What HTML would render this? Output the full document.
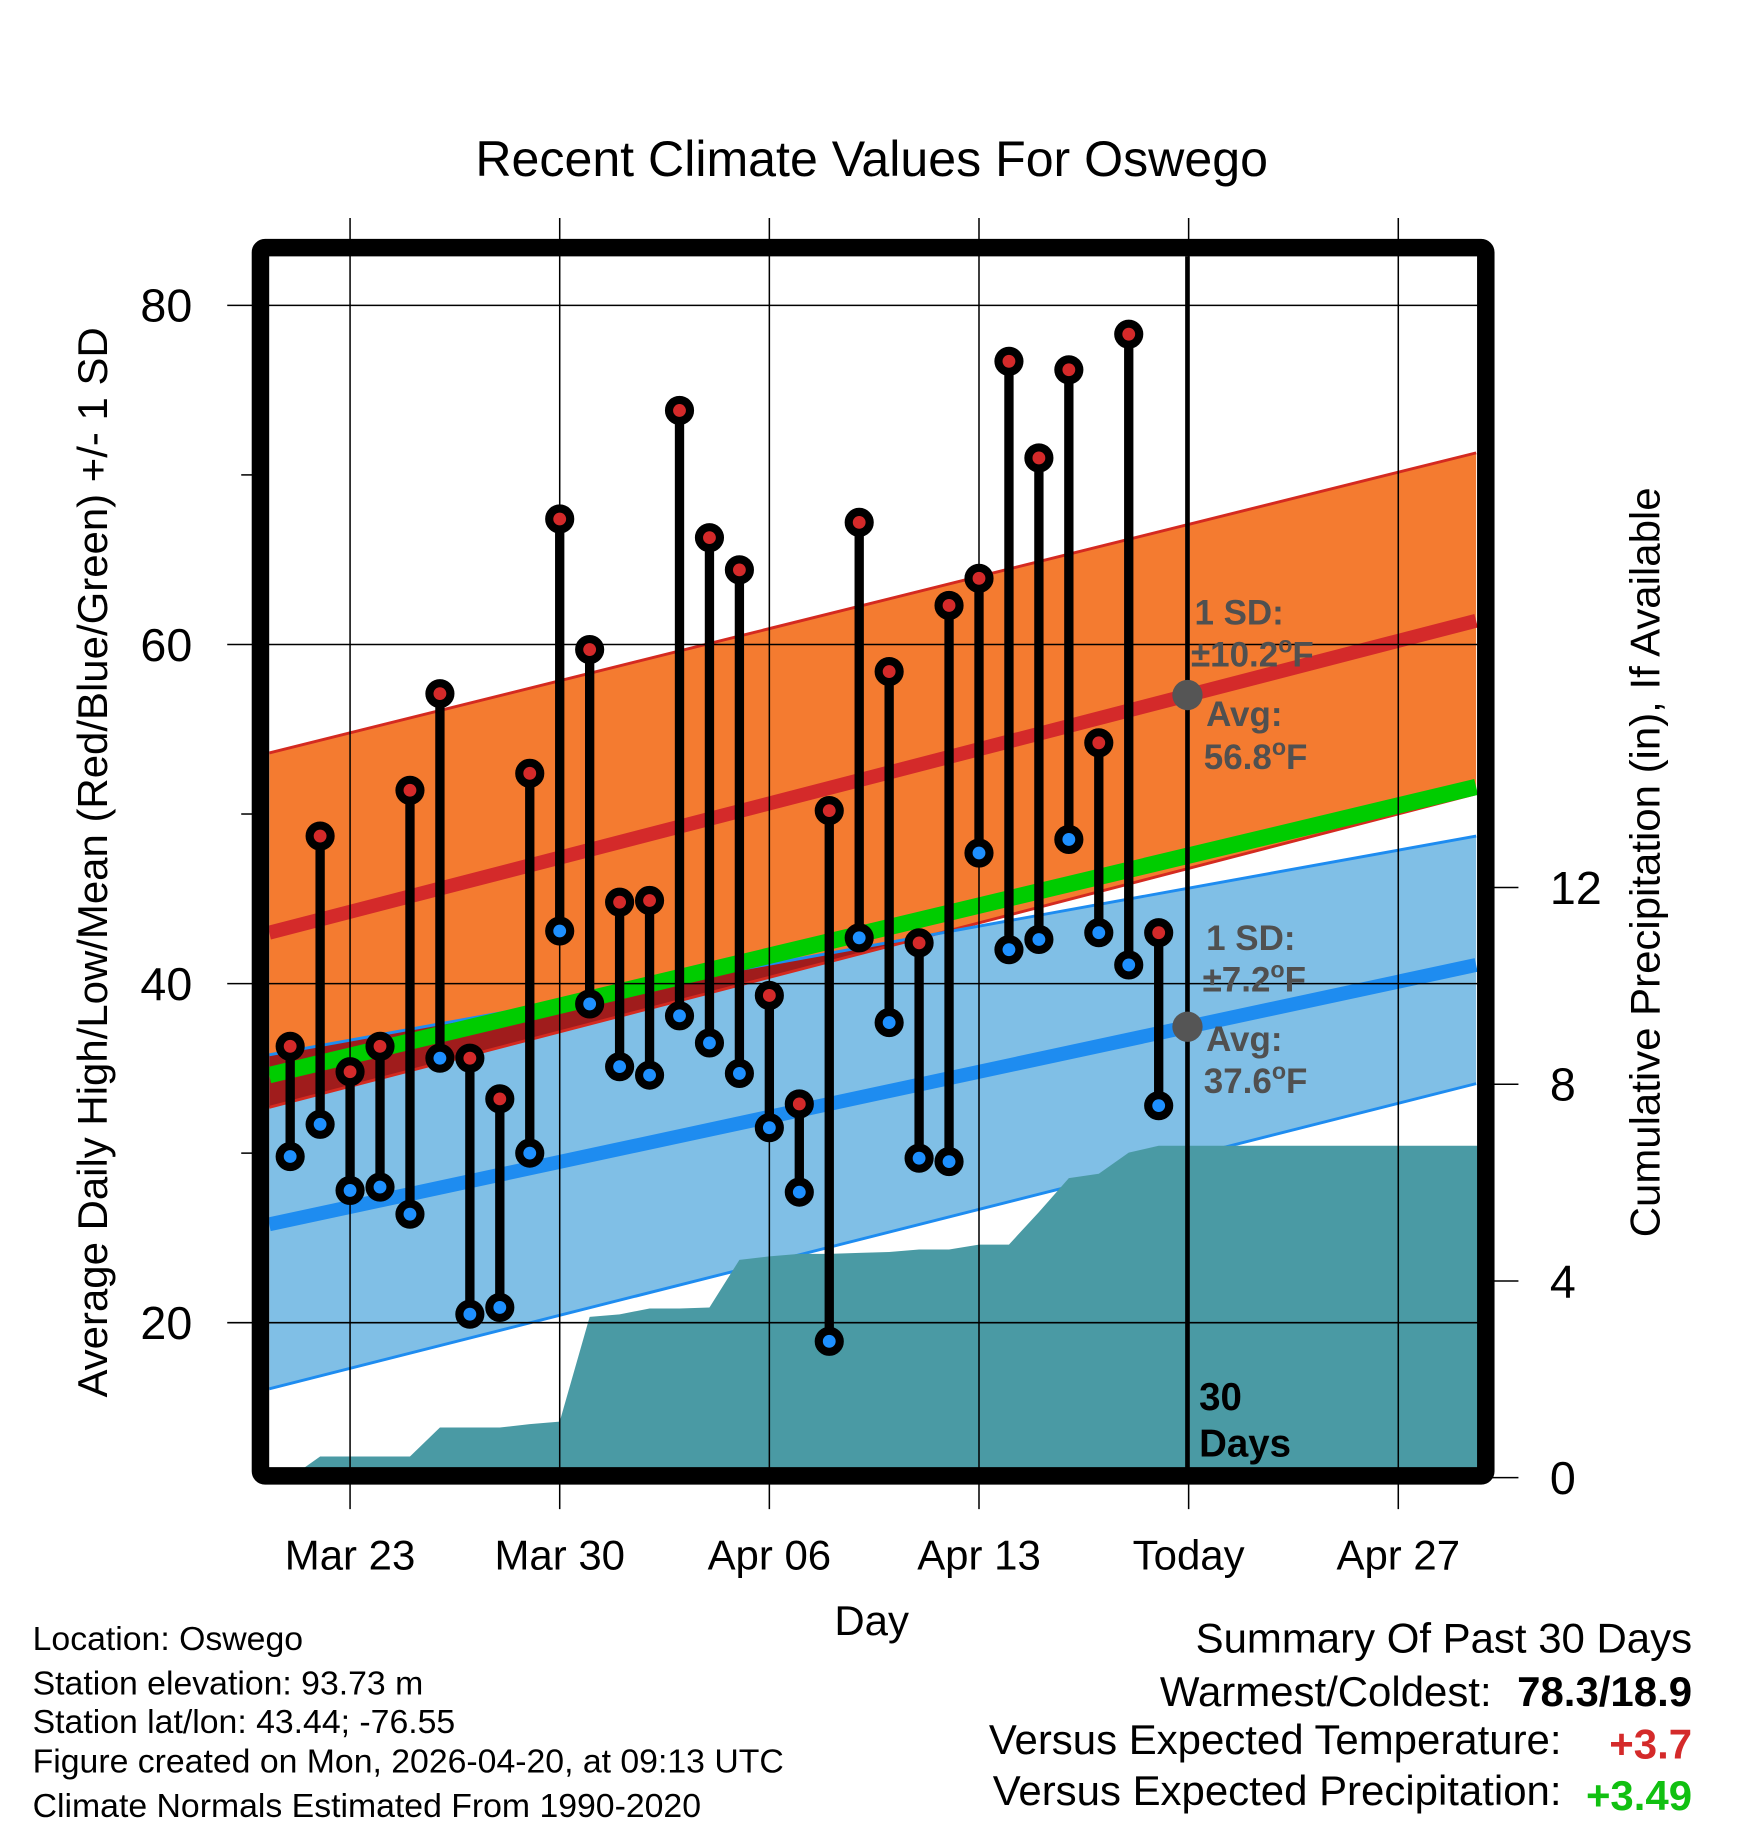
<!DOCTYPE html>
<html><head><meta charset="utf-8"><style>
html,body{margin:0;padding:0;background:#fff;}
svg{display:block;font-family:"Liberation Sans",sans-serif;}
</style></head><body>
<svg id="chart" width="1748" height="1828" viewBox="0 0 1500 1568.6" xmlns="http://www.w3.org/2000/svg">
<text x="748" y="151" font-size="43" text-anchor="middle">Recent Climate Values For Oswego</text>
<g id="layer"></g>
</svg>
<script>
// ---- data ----
const dayLabels = ["Mar 23","Mar 30","Apr 06","Apr 13","Today","Apr 27"];
const dayTickIdx = [2,9,16,23,30,37]; // days since Mar 21
const yTicks = [20,40,60,80];
const yMinor = [30,50,70];
const pTicks = [0,4,8,12];
const highs = [36.3,48.7,34.8,36.3,51.4,57.1,35.6,33.2,52.4,67.4,59.7,44.8,44.9,73.8,66.3,64.4,39.3,32.9,50.2,67.2,58.4,42.4,62.3,63.9,76.7,71.0,76.2,54.2,78.3,43.0];
const lows = [29.8,31.7,27.8,28.0,26.4,35.6,20.5,20.9,30.0,43.1,38.8,35.1,34.6,38.1,36.5,34.7,31.5,27.7,18.9,42.7,37.7,29.7,29.5,47.7,42.0,42.6,48.5,43.0,41.1,32.8];
const precip = [0,0.43,0.43,0.43,0.43,1.02,1.02,1.02,1.09,1.14,3.27,3.32,3.44,3.44,3.46,4.43,4.50,4.55,4.55,4.57,4.59,4.64,4.64,4.74,4.74,5.40,6.09,6.18,6.61,6.75];
const normDays = [-0.7, 39.6];
const normHigh = [43.0, 61.4];
const normHighTop = [53.6, 71.3];
const normHighBot = [32.7, 51.2];
const normLow = [25.8, 41.1];
const normLowTop = [35.8, 48.7];
const normLowBot = [16.1, 34.1];
const normMean = [34.6, 51.6];

// ---- scales ----
const X = d => 249 + 25.7*d;
const Y = t => 262 + (80 - t)*14.55;
const P = p => 1268 - p*42.2;
const L = 231, R = 1268, T = 220, B = 1260;
const NS = "http://www.w3.org/2000/svg";
const layer = document.getElementById('layer');
function mk(tag, attrs, parent){const e=document.createElementNS(NS,tag);for(const k in attrs)e.setAttribute(k,attrs[k]);(parent||layer).appendChild(e);return e;}
function lerp(arr, d){return arr[0] + (arr[1]-arr[0])*(d-normDays[0])/(normDays[1]-normDays[0]);}
function bandPts(top, bot){const d0=normDays[0],d1=normDays[1];
 return `${X(d0)},${Y(lerp(top,d0))} ${X(d1)},${Y(lerp(top,d1))} ${X(d1)},${Y(lerp(bot,d1))} ${X(d0)},${Y(lerp(bot,d0))}`;}

const defs = mk('defs',{});
const cp = mk('clipPath',{id:'pc'},defs); mk('rect',{x:L,y:T,width:R-L,height:B-T},cp);
const g = mk('g',{'clip-path':'url(#pc)'});

let e = mk('polygon',{points:bandPts(normHighTop,normHighBot),fill:'#f47b30'},g);
 
e = mk('polygon',{points:bandPts(normLowTop,normLowBot),fill:'#80bfe6'},g);
 
{const d0=normDays[0];const diff0=lerp(normLowTop,d0)-lerp(normHighBot,d0);const diff1=lerp(normLowTop,normDays[1])-lerp(normHighBot,normDays[1]);
 const dc=d0+(normDays[1]-d0)*diff0/(diff0-diff1);
 e = mk('polygon',{points:`${X(d0)},${Y(lerp(normLowTop,d0))} ${X(dc)},${Y(lerp(normLowTop,dc))} ${X(d0)},${Y(lerp(normHighBot,d0))}`,fill:'#a01c1c'},g);
  }
function ln(arr,color,w,name){const d0=normDays[0],d1=normDays[1];
 const l=mk('line',{x1:X(d0),y1:Y(lerp(arr,d0)),x2:X(d1),y2:Y(lerp(arr,d1)),stroke:color,'stroke-width':w},g);
  }
ln(normHighTop,'#d42a20',2.5,'high-sd-top');
ln(normHighBot,'#d42a20',2.5,'high-sd-bottom');
ln(normLowTop,'#1e8cf0',2.5,'low-sd-top');
ln(normLowBot,'#1e8cf0',2.5,'low-sd-bottom');
ln(normHigh,'#d42a2a',12,'normal-high-line');
ln(normLow,'#1e8cf0',12,'normal-low-line');
ln(normMean,'#00cc00',14,'normal-mean-line');

{let pts=`${X(0)},${B} `;precip.forEach((p,i)=>{pts+=`${X(i)},${P(p)} `;});
 pts+=`${R},${P(precip[precip.length-1])} ${R},${B}`;
 e = mk('polygon',{points:pts,fill:'#4a9aa4'},g);
  }

yTicks.forEach(t=>{const l=mk('line',{x1:195,x2:R,y1:Y(t),y2:Y(t),stroke:'#000','stroke-width':1.3});
  
 const tx=mk('text',{x:165,y:Y(t)+14,'font-size':40,'text-anchor':'end'}); tx.textContent=t;
  });
yMinor.forEach(t=>{const l=mk('line',{x1:207,x2:220,y1:Y(t),y2:Y(t),stroke:'#000','stroke-width':1.3});
  });
dayTickIdx.forEach((d,i)=>{const l=mk('line',{x1:X(d),x2:X(d),y1:187,y2:1295,stroke:'#000','stroke-width':1.3});
  
 const tx=mk('text',{x:X(d),y:1347,'font-size':36,'text-anchor':'middle'}); tx.textContent=dayLabels[i];
  });
pTicks.forEach(p=>{const l=mk('line',{x1:1275,x2:1303,y1:P(p),y2:P(p),stroke:'#000','stroke-width':1.3});
  
 const tx=mk('text',{x:1330,y:P(p)+14,'font-size':40}); tx.textContent=p;
  });

e = mk('line',{x1:X(30)-1,x2:X(30)-1,y1:T,y2:B,stroke:'#000','stroke-width':4});
 

highs.forEach((h,i)=>{
 const s=mk('line',{x1:X(i),x2:X(i),y1:Y(h),y2:Y(lows[i]),stroke:'#000','stroke-width':8});
  
 const c1=mk('circle',{cx:X(i),cy:Y(h),r:9,fill:'#d42a2a',stroke:'#000','stroke-width':7});
  
 const c2=mk('circle',{cx:X(i),cy:Y(lows[i]),r:9,fill:'#1e90ff',stroke:'#000','stroke-width':7});
  
});
const tx30 = X(30)-1;
e = mk('circle',{cx:tx30,cy:Y(lerp(normHigh,30)),r:13,fill:'#555'});
 
e = mk('circle',{cx:tx30,cy:Y(lerp(normLow,30)),r:13,fill:'#555'});
 

e = mk('rect',{x:223.5,y:212.5,width:1051.5,height:1054,fill:'none',stroke:'#000','stroke-width':15,rx:4});
 
</script>
<script>
const svg=document.getElementById('chart');
svg.insertAdjacentHTML('beforeend',`
<g font-weight="bold" font-size="30" fill="#505050">
<text x="1025" y="536">1 SD:</text>
<text x="1022" y="572">±10.2<tspan font-size="20" dy="-12">o</tspan><tspan dy="12">F</tspan></text>
<text x="1035" y="623">Avg:</text>
<text x="1033" y="660">56.8<tspan font-size="20" dy="-12">o</tspan><tspan dy="12">F</tspan></text>
<text x="1035" y="815">1 SD:</text>
<text x="1032" y="851">±7.2<tspan font-size="20" dy="-12">o</tspan><tspan dy="12">F</tspan></text>
<text x="1035" y="902">Avg:</text>
<text x="1033" y="938">37.6<tspan font-size="20" dy="-12">o</tspan><tspan dy="12">F</tspan></text>
</g>
<g font-weight="bold" font-size="33" fill="#000">
<text x="1029" y="1210">30</text>
<text x="1029" y="1250">Days</text>
</g>
<text transform="translate(92,740) rotate(-90)" font-size="36" text-anchor="middle">Average Daily High/Low/Mean (Red/Blue/Green) +/- 1 SD</text>
<text transform="translate(1424,740) rotate(-90)" font-size="36" text-anchor="middle">Cumulative Precipitation (in), If Available</text>
<text x="748" y="1403" font-size="36" text-anchor="middle">Day</text>
<g font-size="29">
<text x="28" y="1416">Location: Oswego</text>
<text x="28" y="1454">Station elevation: 93.73 m</text>
<text x="28" y="1487">Station lat/lon: 43.44; -76.55</text>
<text x="28" y="1521">Figure created on Mon, 2026-04-20, at 09:13 UTC</text>
<text x="28" y="1559">Climate Normals Estimated From 1990-2020</text>
</g>
<g font-size="36" text-anchor="end">
<text x="1452" y="1418">Summary Of Past 30 Days</text>
<text x="1280" y="1464">Warmest/Coldest:</text>
<text x="1452" y="1464" font-weight="bold">78.3/18.9</text>
<text x="1340" y="1505">Versus Expected Temperature:</text>
<text x="1452" y="1509" font-weight="bold" fill="#d42a2a">+3.7</text>
<text x="1340" y="1549">Versus Expected Precipitation:</text>
<text x="1452" y="1553" font-weight="bold" fill="#11c011">+3.49</text>
</g>`);
</script>
</body></html>
